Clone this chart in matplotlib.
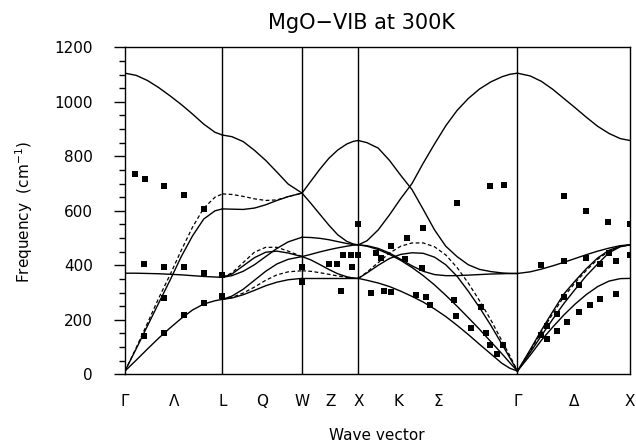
import matplotlib
matplotlib.use("Agg")
import matplotlib.pyplot as plt

# symmetry points along the path (units of 2*pi/a)
G1, L, W, X1, G2, X2 = 0.0, 0.866, 1.573, 2.073, 3.487, 4.487

tick_pos = [0.0, 0.433, 0.866, 1.22, 1.573, 1.823, 2.073, 2.427, 2.78, 3.487, 3.987, 4.487]
tick_lbl = ["Γ", "Λ", "L", "Q", "W", "Z", "X", "K", "Σ", "Γ", "Δ", "X"]

# ---- calculated branches, Gamma -> L ----
q_gl = [0.0, 0.1, 0.2, 0.3, 0.4, 0.5, 0.6, 0.7, 0.8, 0.866]
gl_lo = [1105, 1097, 1078, 1052, 1022, 990, 955, 918, 888, 878]
gl_to = [371, 371, 370, 369, 367, 365, 362, 359, 357, 356]
gl_la = [12, 94, 178, 262, 345, 432, 508, 570, 600, 607]
gl_la_d = [12, 98, 188, 280, 365, 455, 540, 610, 650, 662]
gl_ta = [12, 52, 93, 133, 170, 205, 236, 258, 270, 275]

# ---- L -> W ----
q_lw = [0.866, 0.95, 1.05, 1.15, 1.25, 1.35, 1.45, 1.573]
lw_lo = [878, 872, 854, 822, 785, 742, 698, 665]
lw_la = [607, 606, 605, 610, 622, 638, 652, 665]
lw_la_d = [662, 660, 653, 644, 638, 640, 652, 665]
lw_to1 = [356, 362, 378, 402, 432, 462, 486, 503]
lw_to2 = [356, 368, 398, 428, 448, 452, 445, 432]
lw_to2_d = [356, 372, 410, 448, 466, 466, 452, 432]
lw_ta1 = [275, 287, 312, 345, 378, 405, 422, 432]
lw_ta2 = [275, 280, 292, 308, 325, 338, 347, 352]
lw_ta2_d = [275, 282, 298, 320, 345, 365, 376, 380]

# ---- W -> X ----
q_wx = [1.573, 1.65, 1.73, 1.81, 1.89, 1.97, 2.03, 2.073]
wx_lo = [665, 708, 752, 792, 823, 845, 855, 858]
wx_la = [665, 628, 588, 548, 512, 488, 478, 475]
wx_to1 = [503, 502, 499, 494, 487, 480, 476, 475]
wx_ta1 = [432, 440, 449, 457, 464, 470, 474, 475]
wx_to2 = [432, 420, 403, 385, 369, 358, 353, 352]
wx_ta2 = [352, 352, 352, 352, 352, 352, 352, 352]
wx_ta2_d = [380, 378, 373, 367, 361, 356, 353, 352]

# ---- X -> K -> Gamma ----
q_xg = [2.073, 2.15, 2.25, 2.35, 2.45, 2.55, 2.65, 2.75, 2.85, 2.95, 3.05, 3.15, 3.25, 3.35, 3.42, 3.487]
xg_a = [475, 490, 530, 585, 645, 700, 775, 845, 912, 968, 1012, 1047, 1073, 1092, 1101, 1105]
xg_b = [858, 850, 830, 785, 730, 678, 605, 530, 470, 432, 402, 385, 377, 372, 370, 370]
xg_c = [475, 472, 462, 445, 422, 398, 378, 366, 362, 362, 364, 366, 368, 369, 370, 370]
xg_la = [352, 372, 400, 425, 440, 446, 444, 430, 402, 360, 305, 245, 180, 110, 60, 12]
xg_la_d = [352, 375, 410, 445, 470, 482, 482, 468, 438, 392, 335, 270, 200, 122, 68, 12]
xg_ta1 = [475, 470, 458, 440, 418, 392, 362, 328, 290, 250, 208, 165, 120, 75, 42, 12]
xg_ta2 = [352, 345, 335, 322, 305, 286, 265, 240, 212, 180, 146, 110, 75, 40, 22, 12]

# ---- Gamma -> X ----
q_gx = [3.487, 3.6, 3.7, 3.8, 3.9, 4.0, 4.1, 4.2, 4.3, 4.4, 4.487]
gx_lo = [1105, 1095, 1075, 1046, 1012, 978, 943, 910, 884, 865, 858]
gx_to = [370, 376, 386, 398, 411, 425, 439, 452, 463, 472, 475]
gx_la = [12, 90, 162, 230, 295, 343, 388, 427, 455, 470, 475]
gx_la_d = [12, 86, 155, 222, 285, 336, 382, 422, 452, 469, 475]
gx_la2 = [12, 80, 142, 202, 260, 312, 362, 405, 446, 468, 475]
gx_ta = [12, 70, 125, 173, 218, 258, 293, 322, 342, 351, 352]

# ---- measured points ----
gl_pq = [0.089, 0.178, 0.349, 0.527, 0.705, 0.172, 0.35, 0.527, 0.705, 0.866,
         0.172, 0.35, 0.35, 0.527, 0.705, 0.866]
gl_pf = [734, 718, 691, 658, 605, 405, 393, 393, 373, 366,
         142, 281, 150, 218, 263, 287]
wx_pq = [1.573, 1.573, 1.81, 1.88, 1.935, 2.01, 2.073, 2.015, 1.92, 2.073]
wx_pf = [395, 340, 406, 406, 437, 437, 437, 394, 307, 552]
xg_pq = [2.954, 3.244, 3.369, 2.646, 2.509, 2.364, 2.228, 2.275, 2.489, 2.637,
         2.186, 2.305, 2.364, 2.586, 2.675, 2.71, 2.927, 2.942, 3.164, 3.075,
         3.208, 3.244, 3.357, 3.303]
xg_pf = [627, 691, 696, 536, 502, 471, 444, 426, 422, 389,
         300, 306, 301, 291, 285, 254, 273, 214, 248, 171,
         150, 108, 108, 73]
gx_pq = [3.899, 4.098, 4.293, 4.487, 3.698, 3.899, 4.098, 4.299, 4.219, 4.367,
         4.487, 4.033, 3.899, 3.84, 3.751, 3.692, 3.751, 3.84, 3.929, 4.033,
         4.13, 4.219, 4.367]
gx_pf = [654, 601, 558, 552, 401, 416, 426, 444, 405, 417,
         438, 328, 283, 221, 179, 144, 128, 160, 191, 227,
         254, 276, 293]

plt.rcParams["font.family"] = "DejaVu Sans"
plt.rcParams["ytick.major.pad"] = 15
plt.rcParams["ytick.minor.pad"] = 15
plt.rcParams["xtick.major.pad"] = 14

fig = plt.figure(figsize=(6.36, 4.42), dpi=100)
ax = fig.add_axes([125 / 636, 1 - 374.3 / 442, 505 / 636, 327 / 442])

solid = dict(color="black", lw=1.0)
dashed = dict(color="black", lw=0.9, linestyle=(0, (3, 2)))

for f in [gl_lo, gl_to, gl_la, gl_ta]:
    ax.plot(q_gl, f, **solid)
ax.plot(q_gl, gl_la_d, **dashed)

for f in [lw_lo, lw_la, lw_to1, lw_to2, lw_ta1, lw_ta2]:
    ax.plot(q_lw, f, **solid)
for f in [lw_la_d, lw_to2_d, lw_ta2_d]:
    ax.plot(q_lw, f, **dashed)

for f in [wx_lo, wx_la, wx_to1, wx_ta1, wx_to2, wx_ta2]:
    ax.plot(q_wx, f, **solid)
ax.plot(q_wx, wx_ta2_d, **dashed)

for f in [xg_a, xg_b, xg_c, xg_la, xg_ta1, xg_ta2]:
    ax.plot(q_xg, f, **solid)
ax.plot(q_xg, xg_la_d, **dashed)

for f in [gx_lo, gx_to, gx_la, gx_la2, gx_ta]:
    ax.plot(q_gx, f, **solid)
ax.plot(q_gx, gx_la_d, **dashed)

for pq, pf in [(gl_pq, gl_pf), (wx_pq, wx_pf), (xg_pq, xg_pf), (gx_pq, gx_pf)]:
    ax.plot(pq, pf, "s", color="black", ms=4.4, mew=0, zorder=5)

for v in [L, W, X1, G2]:
    ax.axvline(v, color="black", lw=1.0)

ax.set_xlim(G1, X2)
ax.set_ylim(0, 1200)
ax.set_yticks(range(0, 1201, 200))
ax.set_yticks(range(0, 1201, 50), minor=True)
ax.tick_params(axis="y", which="major", direction="out", length=8, width=1.0, labelsize=11)
ax.tick_params(axis="y", which="minor", direction="out", length=4.5, width=1.0)
ax.set_xticks(tick_pos)
ax.set_xticklabels(tick_lbl)
ax.tick_params(axis="x", length=0, labelsize=11)
for s in ax.spines.values():
    s.set_linewidth(1.0)

fig.text(361 / 636, 1 - 23 / 442, "MgO\u2212VIB at 300K", ha="center", va="center", fontsize=15)
fig.text(377 / 636, 1 - 436 / 442, "Wave vector", ha="center", va="center", fontsize=11)
fig.text(24 / 636, 1 - 212 / 442, "Frequency  (cm$^{-1}$)", ha="center", va="center",
         rotation=90, fontsize=11)

fig.savefig("out.png", dpi=100)
